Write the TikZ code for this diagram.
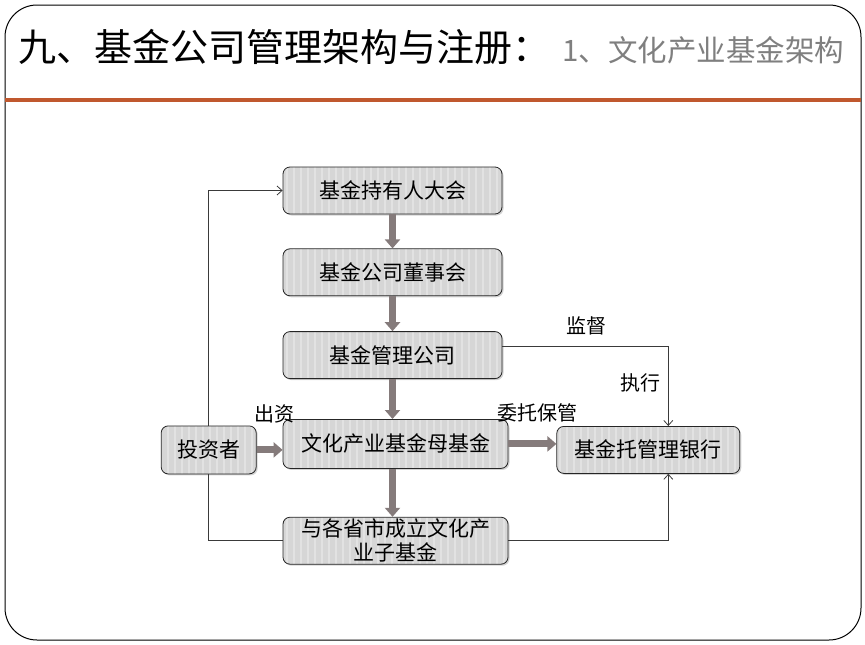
\documentclass[tikz,border=0pt]{standalone}
\usepackage{fontspec}
\setmainfont{Noto Sans CJK SC}
\usetikzlibrary{arrows.meta, positioning, shadows, patterns.meta}
\definecolor{boxGray}{HTML}{D6D6D6}
\definecolor{stripeGray}{HTML}{E2E2E2}
\definecolor{fatGray}{HTML}{857B7B}
\definecolor{lineGray}{HTML}{3A3A3A}
\definecolor{ruleOrange}{HTML}{C0582E}
\definecolor{subGray}{HTML}{7F7F7F}

\begin{document}
\begin{tikzpicture}[
  x=1pt, y=-1pt,
  node distance=34pt and 26pt,
  fundbox/.style={rectangle, rounded corners=7pt, minimum width=219pt, minimum height=47pt, align=center, inner sep=0pt, font=\fontsize{21}{24}\selectfont,
    drop shadow={shadow xshift=1.5pt, shadow yshift=-1.5pt, opacity=0.35},
    preaction={fill=boxGray},
    preaction={pattern={Lines[angle=90, distance=7pt, line width=2.5pt]}, pattern color=stripeGray},
    draw=black!85, line width=0.8pt},
  fat/.style={-{Triangle[length=9pt, width=15pt]}, line width=7pt, draw=fatGray},
  thin/.style={-{Straight Barb[length=5pt, width=9pt]}, line width=0.8pt, draw=lineGray},
  plain/.style={line width=0.8pt, draw=lineGray},
  lbl/.style={font=\fontsize{20}{22}\selectfont, inner sep=0pt},
]
\useasboundingbox (0,0) rectangle (865,645);

% Frame and title
\draw[line width=1pt, rounded corners=32pt] (5,5) rectangle (861,640);
\draw[ruleOrange, line width=4pt] (5,100) -- (861,100);
\node[anchor=west, inner sep=0pt, font=\fontsize{38}{40}\selectfont] (title) at (18,47) {九、基金公司管理架构与注册：};
\node[anchor=base west, inner sep=0pt, font=\fontsize{29.5}{31}\selectfont, text=subGray] (subtitle) at ([xshift=12pt]title.base east) {1、文化产业基金架构};

% Column of boxes
\node[fundbox] (holder) at (392.5,190.5) {基金持有人大会};
\node[fundbox, below=of holder] (board) {基金公司董事会};
\node[fundbox, below=35pt of board] (mgmt) {基金管理公司};
\node[fundbox, below=40pt of mgmt, xshift=3pt, minimum width=225pt, minimum height=49pt] (mother) {文化产业基金母基金};
\node[fundbox, below=48pt of mother, minimum width=225pt] (sub) {与各省市成立文化产\\业子基金};

% Side boxes
\node[fundbox, left=26pt of mother, yshift=-6pt, minimum width=95pt, minimum height=48pt] (investor) {投资者};
\node[fundbox, right=48pt of mother, yshift=-6pt, minimum width=183pt] (bank) {基金托管理银行};

% Labels
\node[lbl] (invest) at (274,414) {出资};
\node[lbl] (entrust) at (537,413) {委托保管};
\node[lbl] (supervise) at (586,326) {监督};
\node[lbl] (execute) at (640,383) {执行};

% Arrows
\draw[fat] (holder) -- (board);
\draw[fat] (board) -- (mgmt);
\draw[fat] (mgmt.south) -- (mgmt.south |- mother.north);
\draw[fat] (mgmt.south |- mother.south) -- (mgmt.south |- sub.north);
\draw[fat] (investor.east) -- (investor.east -| mother.west);
\draw[fat] (mother.east) -- (mother.east -| bank.west);
\draw[thin] (investor.north) |- (holder.west);
\draw[plain] (investor.south) |- (sub.west);
\draw[thin] ([yshift=9pt]mgmt.east) -| ([xshift=20pt]bank.north);
\draw[thin] (sub.east) -| ([xshift=20pt]bank.south);

\end{tikzpicture}
\end{document}
